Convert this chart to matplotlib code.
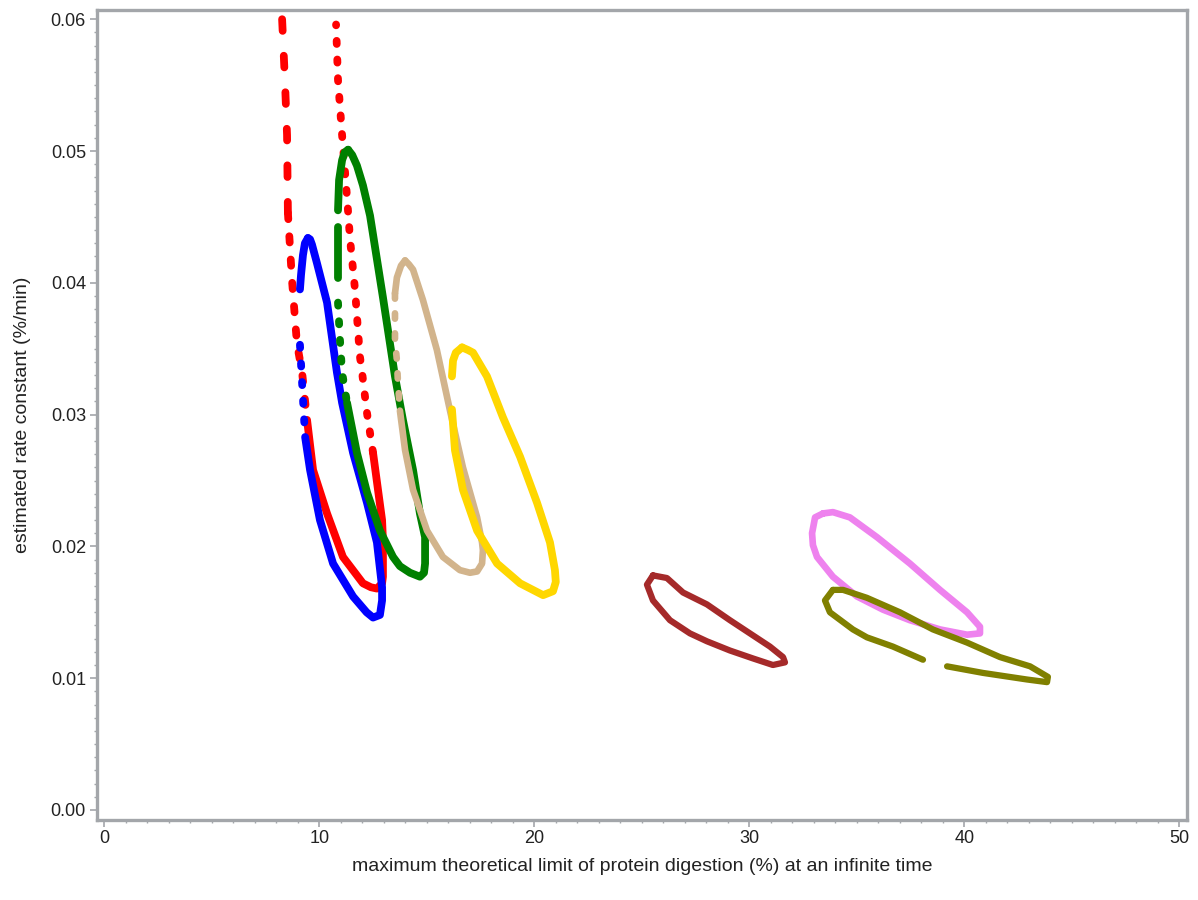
import matplotlib
matplotlib.use('Agg')
import matplotlib.pyplot as plt
from matplotlib.ticker import MultipleLocator

# contour outlines (x = digestion limit %, y = rate constant %/min)
red_x = [8.27, 8.40, 8.50, 8.54, 8.73, 8.96, 9.20, 9.43, 9.71, 10.36, 11.10, 12.03, 12.40, 12.68,
         12.92, 12.96, 12.96, 12.92, 12.73, 12.50, 12.22, 11.99, 11.89, 11.66, 11.43, 11.29, 11.06,
         10.87, 10.78]
red_y = [0.0600, 0.0554, 0.0512, 0.0453, 0.0402, 0.0354, 0.0332, 0.0296, 0.0258, 0.0225, 0.0192,
         0.0172, 0.0169, 0.0168, 0.0172, 0.0177, 0.0205, 0.0220, 0.0243, 0.0271, 0.0301, 0.0332,
         0.0344, 0.0395, 0.0433, 0.0465, 0.0512, 0.0554, 0.0596]

blue_x = [9.47, 9.33, 9.24, 9.15, 9.10, 9.10, 9.20, 9.34, 9.57, 10.03, 10.64, 11.57, 12.20, 12.50,
          12.82, 12.92, 12.92, 12.68, 12.22, 11.57, 11.06, 10.82, 10.36, 9.89, 9.66, 9.57, 9.47]
blue_y = [0.0434, 0.0430, 0.0421, 0.0406, 0.0395, 0.0353, 0.0324, 0.0283, 0.0258, 0.0220, 0.0187,
          0.0162, 0.0150, 0.0146, 0.0148, 0.0159, 0.0169, 0.0203, 0.0233, 0.0271, 0.0309, 0.0332,
          0.0385, 0.0415, 0.0429, 0.0433, 0.0434]

green_x = [11.34, 11.18, 11.06, 10.92, 10.87, 10.87, 10.87, 10.87, 10.96, 11.06, 11.29, 11.75, 12.22,
           12.82, 13.43, 13.75, 14.22, 14.68, 14.87, 14.92, 14.92, 14.68, 14.36, 13.89, 13.52, 12.96,
           12.36, 12.03, 11.75, 11.53, 11.34]
green_y = [0.0501, 0.0499, 0.0493, 0.0478, 0.0455, 0.0442, 0.0404, 0.0385, 0.0357, 0.0332, 0.0309,
           0.0271, 0.0241, 0.0212, 0.0192, 0.0185, 0.0180, 0.0177, 0.0180, 0.0187, 0.0207, 0.0225,
           0.0258, 0.0296, 0.0329, 0.0389, 0.0451, 0.0474, 0.0489, 0.0497, 0.0501]

tan_x = [13.99, 13.80, 13.61, 13.52, 13.52, 13.61, 13.66, 13.75, 13.99, 14.36, 15.01, 15.75, 16.54,
         17.01, 17.34, 17.57, 17.61, 17.57, 17.34, 16.68, 16.08, 15.47, 14.82, 14.36, 14.17, 13.99]
tan_y = [0.0417, 0.0413, 0.0404, 0.0392, 0.0357, 0.0341, 0.0324, 0.0303, 0.0273, 0.0243, 0.0212,
         0.0192, 0.0182, 0.0180, 0.0181, 0.0187, 0.0197, 0.0203, 0.0222, 0.0260, 0.0303, 0.0349,
         0.0387, 0.0410, 0.0414, 0.0417]

yellow_x = [16.64, 16.35, 16.22, 16.17, 16.17, 16.31, 16.68, 17.34, 18.27, 19.34, 20.41, 20.87,
            21.00, 20.96, 20.73, 20.13, 19.34, 18.54, 17.80, 17.15, 16.92, 16.64]
yellow_y = [0.0351, 0.0347, 0.0341, 0.0329, 0.0304, 0.0273, 0.0243, 0.0212, 0.0187, 0.0172, 0.0163,
            0.0166, 0.0173, 0.0182, 0.0203, 0.0233, 0.0268, 0.0298, 0.0329, 0.0347, 0.0349, 0.0351]

brown_x = [25.52, 25.24, 25.52, 26.31, 27.24, 28.03, 29.10, 30.17, 31.10, 31.66, 31.57, 30.96,
           30.03, 29.10, 28.03, 26.92, 26.17, 25.52]
brown_y = [0.0178, 0.0171, 0.0159, 0.0144, 0.0134, 0.0128, 0.0121, 0.0115, 0.0110, 0.0112, 0.0116,
           0.0124, 0.0134, 0.0144, 0.0156, 0.0165, 0.0176, 0.0178]

violet_x = [33.43, 33.06, 32.92, 32.96, 33.15, 33.89, 35.01, 36.22, 37.47, 38.87, 40.13, 40.73,
            40.73, 40.13, 38.87, 37.47, 35.94, 34.68, 33.89, 33.43]
violet_y = [0.0225, 0.0222, 0.0210, 0.0201, 0.0192, 0.0177, 0.0162, 0.0152, 0.0144, 0.0137, 0.0133,
            0.0134, 0.0139, 0.0150, 0.0167, 0.0187, 0.0207, 0.0222, 0.0226, 0.0225]

olive_x = [33.89, 33.52, 33.75, 34.82, 35.47, 36.68, 38.08, 39.20, 40.87, 42.92, 43.85, 43.89, 43.06,
           41.66, 40.13, 38.54, 37.01, 35.47, 34.36, 33.89]
olive_y = [0.0167, 0.0159, 0.0150, 0.0137, 0.0131, 0.0124, 0.0114, 0.0109, 0.0104, 0.0099, 0.0097,
           0.0101, 0.0109, 0.0116, 0.0127, 0.0137, 0.0150, 0.0161, 0.0167, 0.0167]

# dash patterns (sparse points on steep parts of the contours)
STYLES = {
    'solid': '-',
    'dash': (0, (1.5, 3.2)),
    'short': (0, (0.8, 2.2)),
    'dot': (0, (0.4, 2.0)),
}


def draw(ax, xs, ys, color, lw, pieces):
    for start, end, style in pieces:
        ax.plot(xs[start:end + 1], ys[start:end + 1], color=color, lw=lw,
                linestyle=STYLES[style], solid_capstyle='round', dash_capstyle='round',
                solid_joinstyle='round')


fig = plt.figure(figsize=(11.98, 9.0), dpi=100)
ax = fig.add_axes([97 / 1198, 80 / 900, 1090 / 1198, 810 / 900])

draw(ax, red_x, red_y, '#FF0000', 5.6, [(0, 3, 'dash'), (3, 7, 'short'), (7, 19, 'solid'),
                                        (19, 28, 'dot')])
draw(ax, blue_x, blue_y, '#0000FF', 5.6, [(0, 4, 'solid'), (5, 7, 'dot'), (7, 26, 'solid')])
draw(ax, green_x, green_y, '#008000', 5.6, [(0, 4, 'solid'), (5, 6, 'solid'), (7, 10, 'dot'),
                                            (10, 30, 'solid')])
draw(ax, tan_x, tan_y, '#D2B48C', 4.8, [(0, 3, 'solid'), (3, 7, 'short'), (7, 25, 'solid')])
draw(ax, yellow_x, yellow_y, '#FFD700', 5.6, [(0, 3, 'solid'), (4, 21, 'solid')])
draw(ax, brown_x, brown_y, '#A52A2A', 4.5, [(0, 17, 'solid')])
draw(ax, violet_x, violet_y, '#EE82EE', 4.8, [(0, 19, 'solid')])
draw(ax, olive_x, olive_y, '#808000', 4.5, [(0, 6, 'solid'), (7, 19, 'solid')])

ax.set_xlim(-0.34, 50.36)
ax.set_ylim(-0.00076, 0.0607)
ax.xaxis.set_major_locator(MultipleLocator(10))
ax.xaxis.set_minor_locator(MultipleLocator(1))
ax.yaxis.set_major_locator(MultipleLocator(0.01))
ax.yaxis.set_minor_locator(MultipleLocator(0.001))
ax.yaxis.set_major_formatter(plt.FormatStrFormatter('%.2f'))

frame = '#A3A6AA'
for side in ax.spines.values():
    side.set_color(frame)
    side.set_linewidth(2.4)
ax.tick_params(which='major', direction='out', length=5, width=1.2, color=frame,
               labelsize=13, labelcolor='#222222', pad=3)
ax.tick_params(axis='x', which='major', pad=2)
ax.tick_params(which='minor', direction='out', length=2.5, width=1.0, color=frame)
for lab in ax.get_xticklabels() + ax.get_yticklabels():
    lab.set_family('Liberation Sans')

ax.set_xlabel('maximum theoretical limit of protein digestion (%) at an infinite time',
              fontsize=14, family='Liberation Sans', color='#222222', labelpad=8)
ax.set_ylabel('estimated rate constant (%/min)', fontsize=14, family='Liberation Sans',
              color='#222222', labelpad=14)

fig.savefig('out.png', dpi=100)
